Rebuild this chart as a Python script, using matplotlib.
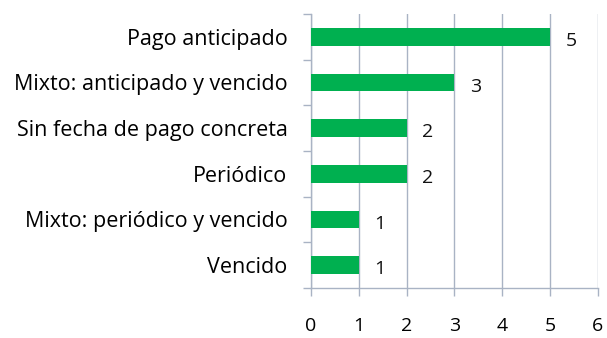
import matplotlib.pyplot as plt

plt.rcParams['font.family'] = ['Open Sans', 'DejaVu Sans']

categorias = ['Vencido', 'Mixto: periódico y vencido', 'Periódico',
              'Sin fecha de pago concreta', 'Mixto: anticipado y vencido',
              'Pago anticipado']
valores = [1, 1, 2, 2, 3, 5]
xticks = [0, 1, 2, 3, 4, 5, 6]

verde = '#00B050'
gris = '#A9B3C4'

fig = plt.figure(figsize=(6.07, 3.38), dpi=100)
ax = fig.add_axes([0.5124, 0.148, 0.4726, 0.8106])

pos = range(len(categorias))
ax.barh(pos, valores, height=0.39, color=verde, zorder=3)

for y, v in zip(pos, valores):
    ax.annotate(str(v), (v, y), xytext=(11, -3), textcoords='offset points',
                ha='left', va='center', fontsize=14, color='#111111')

ax.set_xlim(0, 6)
ax.set_ylim(-0.5, len(categorias) - 0.5)
ax.set_xticks(xticks)
ax.set_yticks([y - 0.5 for y in pos] + [len(categorias) - 0.5])
ax.set_yticklabels([])
ax.set_yticks(list(pos), minor=True)
ax.set_yticklabels(categorias, minor=True, fontsize=15.5)
ax.tick_params(axis='y', which='minor', length=0, pad=17)
ax.tick_params(axis='y', which='major', length=6, color=gris, width=1)
ax.tick_params(axis='x', length=6, color=gris, width=1, pad=15, labelsize=14)

ax.grid(axis='x', color=gris, linewidth=1, zorder=0)
for s in ['top', 'right']:
    ax.spines[s].set_visible(False)
for s in ['left', 'bottom']:
    ax.spines[s].set_color(gris)
    ax.spines[s].set_linewidth(1)

fig.savefig('out.png', dpi=100)
